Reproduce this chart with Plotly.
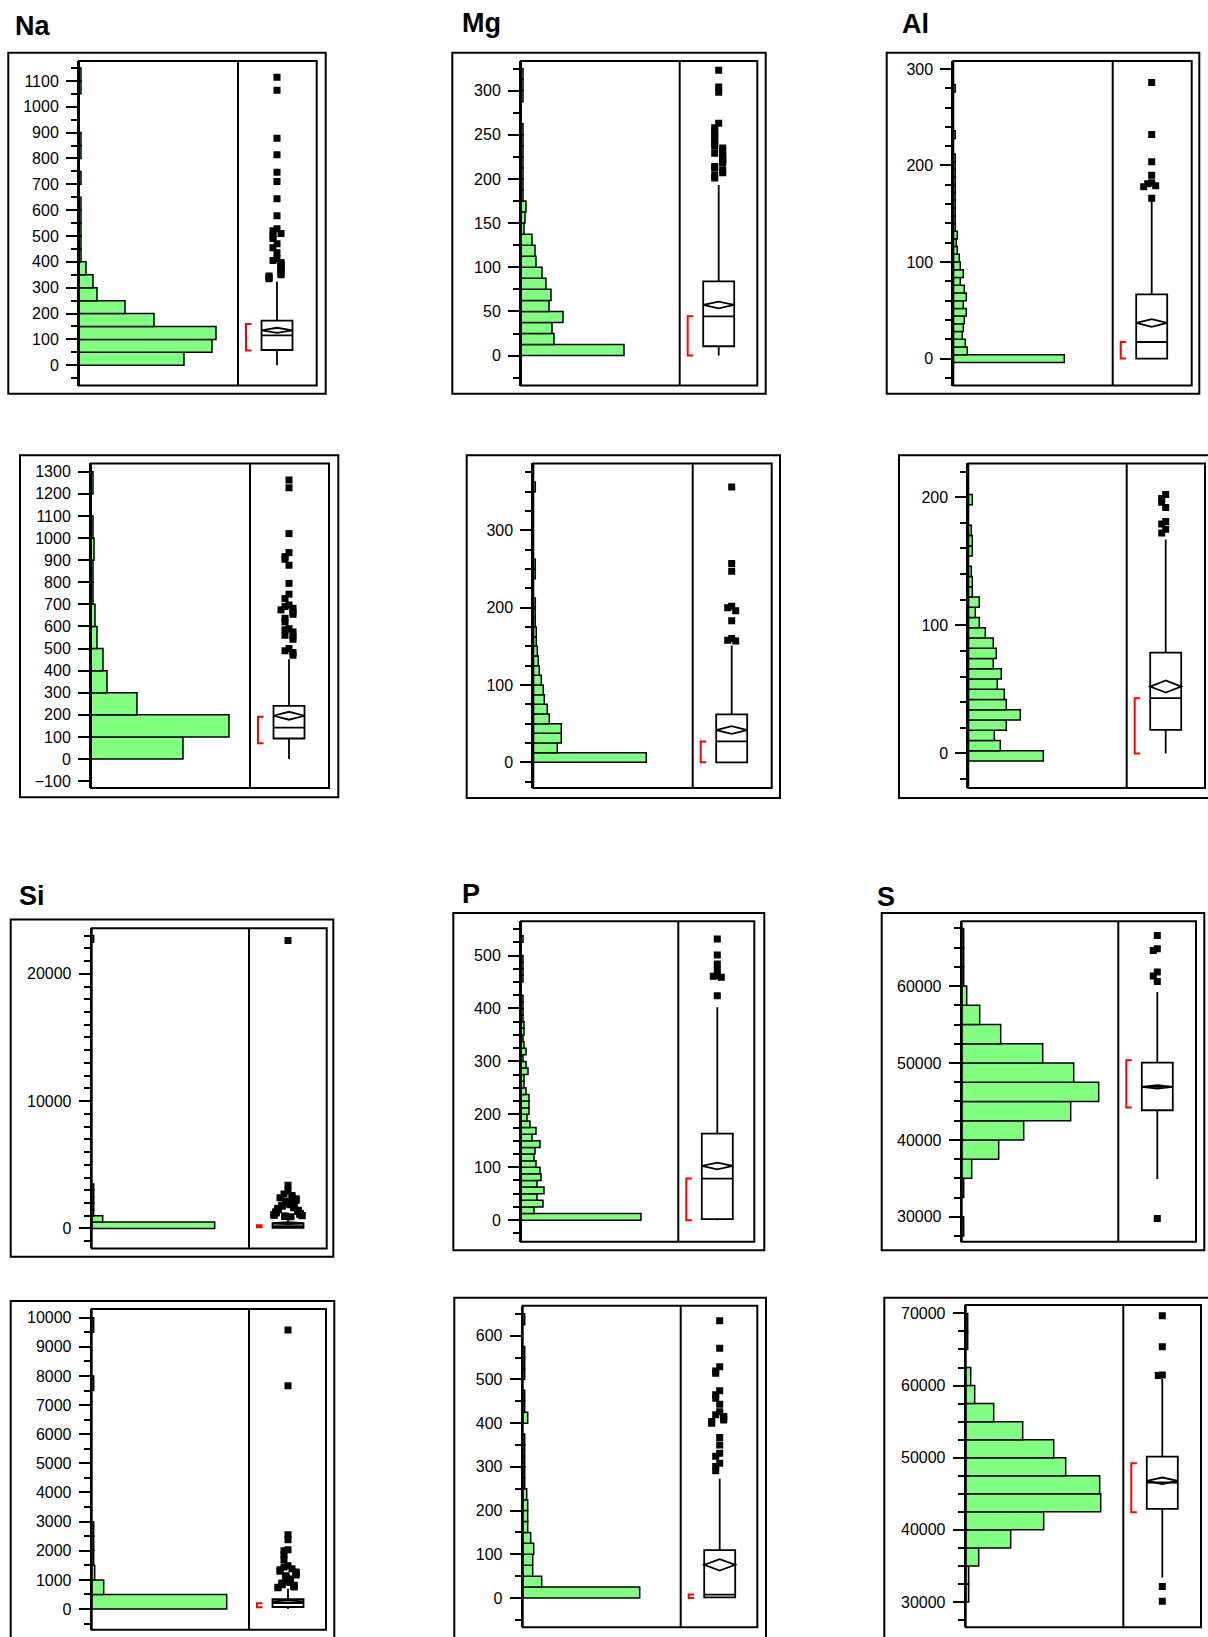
import plotly.graph_objects as go

W, H = 1208, 1637

# ------------------------------------------------------------------
# Values
# bins: (lower edge of first bin, bin width); counts per bin
# box: lower whisker, Q1, median, Q3, upper whisker
# mean: mean value, half-height of the mean diamond
# short: shortest half (red bracket)
# out: outlying points
# ------------------------------------------------------------------
elements = ["Na", "Mg", "Al", "Si", "P", "S"]

na1_bins = (0, 50)
na1_counts = [105, 133, 137, 75, 46, 18, 14, 7, 2, 2, 2, 2, 2, 0, 2, 0, 2, 2, 0, 0, 0, 2, 2]
na1_box = [0, 59, 116, 173, 324]
na1_mean = [135, 10]
na1_short = [57, 160]
na1_out = [1114, 1064, 878, 814, 747, 711, 644, 578, 528, 520, 510, 500, 490, 470,
           455, 435, 412, 405, 398, 392, 385, 378, 370, 362, 356, 350, 345, 340, 335]

mg1_bins = (0, 12.5)
mg1_counts = [103, 33, 31, 42, 28, 30, 25, 21, 15, 14, 11, 3, 4, 5,
              2, 2, 2, 2, 2, 2, 2, 0, 0, 2, 2, 2]
mg1_box = [0, 10.6, 44.5, 84, 193]
mg1_mean = [57.3, 3.8]
mg1_short = [0, 44.5]
mg1_out = [323, 304, 298, 263, 258, 254, 250, 248, 244, 240, 237, 235, 232, 229,
           227, 225, 222, 220, 218, 214, 212, 210, 207, 204, 201]

al1_bins = (-4, 8)
al1_counts = [111, 14, 12, 9, 10, 11, 13, 10, 13, 11, 7, 10, 7, 6, 4, 3, 4,
              2, 2, 2, 2, 2, 2, 2, 2, 2, 2, 0, 0, 2, 0, 0, 0, 0, 0, 2]
al1_box = [0, 0, 17.2, 66.6, 164.5]
al1_mean = [36.9, 4]
al1_short = [0, 17.2]
al1_out = [286, 232, 204, 190, 182, 181, 179, 178, 166]

na2_bins = (0, 100)
na2_counts = [92, 138, 46, 16, 12, 6, 4, 2, 2, 3, 2, 0, 2]
na2_box = [0, 93, 142, 241, 452]
na2_mean = [196, 18]
na2_short = [72, 191]
na2_out = [1262, 1228, 1020, 934, 916, 904, 877, 795, 746, 726, 697, 690, 682, 675,
           665, 655, 637, 621, 590, 585, 575, 560, 557, 542, 500, 490, 482, 470]

mg2_bins = (0, 12.5)
mg2_counts = [113, 24, 28, 28, 16, 14, 11, 10, 8, 6, 5, 4, 3, 3, 2, 2, 2, 0, 0, 2, 2,
              0, 0, 0, 0, 0, 0, 0, 2]
mg2_box = [0, 0, 27, 62, 151]
mg2_mean = [41.8, 5]
mg2_short = [0, 27]
mg2_out = [356, 257, 247, 202, 200, 196, 183, 160, 158, 157]

al2_bins = (-6, 8)
al2_counts = [75, 32, 26, 38, 52, 38, 36, 29, 33, 25, 28, 25, 17, 11, 7, 11, 4, 4, 3,
              0, 4, 4, 3, 0, 0, 4]
al2_box = [0, 18.4, 43.1, 78.7, 167]
al2_mean = [52.2, 4.7]
al2_short = [0, 43]
al2_out = [202, 199, 196, 192, 181, 179, 175, 172]

si1_bins = (0, 500)
si1_counts = [123, 11, 2, 2, 2, 2, 2] + [0] * 38 + [2]
si1_box = [0, 50, 190, 390, 900]
si1_mean = [420, 80]
si1_short = [100, 260]
si1_out = [22614, 3399, 2954, 2700, 2600, 2500, 2420, 2340, 2270, 2200, 2140, 2080,
           2020, 1970, 1920, 1870, 1820, 1780, 1740, 1700, 1660, 1620, 1580, 1545,
           1510, 1475, 1440, 1405, 1370, 1340, 1310, 1280, 1250, 1220, 1190, 1165,
           1140, 1115, 1090, 1065, 1040, 1020, 1000, 980, 960, 940, 920]

p1_bins = (0, 12.5)
p1_counts = [120, 13, 22, 16, 23, 16, 20, 19, 15, 13, 14, 19, 11, 15, 9, 6, 8, 8, 8,
             5, 3, 3, 7, 5, 2, 5, 3, 2, 3, 3, 2, 2, 2, 2, 0, 0, 2, 2, 2, 2, 0, 0, 2]
p1_box = [0, 2, 78.6, 163.5, 402.5]
p1_mean = [102.5, 6.3]
p1_short = [0, 78.6]
p1_out = [531, 501, 484, 472, 462, 461, 459, 424]

s1_bins = (27500, 2500)
s1_counts = [2, 0, 2, 10, 37, 62, 109, 137, 112, 81, 39, 18, 5, 2, 2, 2]
s1_box = [34900, 43853, 46883, 50043, 59221]
s1_mean = [46900, 220]
s1_short = [44199, 50346]
s1_out = [66580, 64848, 64632, 61818, 61300, 60606, 29784]

si2_bins = (0, 500)
si2_counts = [135, 12, 3, 2, 2, 2, 0, 0, 0, 0, 0, 0, 0, 0, 0, 2, 0, 0, 0, 2]
si2_box = [0, 69, 206, 343, 700]
si2_mean = [263, 40]
si2_short = [60, 200]
si2_out = [9577, 7669, 2549, 2377, 2035, 2000, 1863, 1692, 1486, 1440, 1380, 1349,
           1300, 1270, 1240, 1200, 1170, 1140, 1110, 1086, 1060, 1030, 1006, 980, 960,
           935, 914, 890, 870, 850, 834, 815, 800, 780, 760, 745, 730]

p2_bins = (0, 25)
p2_counts = [117, 19, 10, 10, 11, 8, 5, 5, 5, 4, 2, 2, 2, 2, 2, 0, 5, 2, 2, 0, 2, 2,
             2, 0, 0, 2]
p2_box = [0, 1.5, 7.6, 109.6, 272.6]
p2_mean = [76, 13]
p2_short = [0, 8]
p2_out = [634, 571, 529, 519, 514, 474, 465, 457, 443, 426, 419, 415, 411, 407, 404,
          400, 367, 350, 331, 324, 308, 301, 291]

s2_bins = (30000, 2500)
s2_counts = [3, 3, 13, 45, 78, 135, 134, 100, 88, 57, 28, 9, 5, 0, 2, 2]
s2_box = [33414, 42918, 46563, 50161, 60911]
s2_mean = [46794, 460]
s2_short = [42457, 49239]
s2_out = [69677, 65386, 61465, 61400, 32168, 30092]

panels = [
    (na1_bins, na1_counts, na1_box, na1_mean, na1_short, na1_out),
    (mg1_bins, mg1_counts, mg1_box, mg1_mean, mg1_short, mg1_out),
    (al1_bins, al1_counts, al1_box, al1_mean, al1_short, al1_out),
    (na2_bins, na2_counts, na2_box, na2_mean, na2_short, na2_out),
    (mg2_bins, mg2_counts, mg2_box, mg2_mean, mg2_short, mg2_out),
    (al2_bins, al2_counts, al2_box, al2_mean, al2_short, al2_out),
    (si1_bins, si1_counts, si1_box, si1_mean, si1_short, si1_out),
    (p1_bins, p1_counts, p1_box, p1_mean, p1_short, p1_out),
    (s1_bins, s1_counts, s1_box, s1_mean, s1_short, s1_out),
    (si2_bins, si2_counts, si2_box, si2_mean, si2_short, si2_out),
    (p2_bins, p2_counts, p2_box, p2_mean, p2_short, p2_out),
    (s2_bins, s2_counts, s2_box, s2_mean, s2_short, s2_out),
]

# ------------------------------------------------------------------
# Page layout (pixels)
# outer frame (x0, y0, x1, y1); plot frame (left, divider, right, top, bottom)
# ------------------------------------------------------------------
frames = [
    ((8.3, 52.7, 325.7, 394.3), (79, 238, 316.7, 61, 386)),
    ((452.3, 52.7, 765.7, 394.3), (521, 679.7, 757.3, 61, 386)),
    ((886.7, 52.7, 1199.3, 394.3), (953.3, 1112.7, 1191.7, 61, 386)),
    ((20, 455.7, 338.3, 798.3), (91, 250, 329, 464, 789)),
    ((466.7, 455.7, 780, 799), (533.3, 692.7, 771.7, 464, 789)),
    ((899, 455.7, 1212, 799), (968.3, 1126.7, 1205, 464, 789)),
    ((10.7, 920.7, 333.3, 1258.3), (91.7, 249, 326.7, 929.3, 1250)),
    ((453.3, 914, 764.3, 1251.7), (521, 678.3, 754.3, 922.3, 1243.3)),
    ((881.7, 914, 1204.3, 1251.7), (961.7, 1118.3, 1196, 922.3, 1243.3)),
    ((10.7, 1302.7, 334.3, 1645), (91.7, 249, 326, 1310.7, 1631.7)),
    ((454.3, 1299.3, 766, 1645), (522.7, 680.7, 757.3, 1307.3, 1629.3)),
    ((884.3, 1299.3, 1212, 1645), (965.7, 1123.3, 1201, 1306.7, 1629.3)),
]

# value axis: range, major tick step, minor tick step
value_axes = [
    ((-78.4, 1177.3), 100, 50),
    ((-33.9, 333.6), 50, 25),
    ((-27.9, 308.3), 100, 20),
    ((-131, 1337.5), 100, None),
    ((-33.2, 386.5), 100, 25),
    ((-27, 226.3), 100, 20),
    ((-1569, 23584), 10000, 1000),
    ((-40.8, 564.9), 100, 25),
    ((26753, 68442), 10000, 2500),
    ((-710, 10296), 1000, 500),
    ((-67, 668.6), 100, 50),
    ((26498, 71149), 10000, 2500),
]

# element headings: (left x, vertical centre) in pixels
heading_pos = [(13, 26), (460, 23), (900, 24), (17, 897), (460, 895), (875, 898)]

FONT = "Liberation Sans"
GREEN = "#80FF80"
BOX_C, BOX_HALF = 39, 15.5          # box centre / half width, px from divider
BRACKET_X0, BRACKET_X1 = 8, 13.5    # red bracket, px from divider
JITTER = [0, -4, 4, -8, 8, -2, 2, -6, 6, -10, 10, -12, 12, -14, 14, -3, 3, -7, 7,
          -11, 11, -13, 13, -5, 5, -9, 9]


def px(x):
    return x / W


def py(y):
    return 1 - y / H


def ax_name(n, letter):
    return letter if n == 1 else f"{letter}{n}"


def ax_key(n, letter):
    return f"{letter}axis" if n == 1 else f"{letter}axis{n}"


def spread(values, px_per_unit, gap=5):
    """Horizontal offsets so that overlapping points sit side by side."""
    offs = []
    for i, v in enumerate(values):
        k = sum(1 for u in values[:i] if abs(u - v) * px_per_unit < gap)
        offs.append(JITTER[k % len(JITTER)])
    return offs


fig = go.Figure()
layout = {}
shapes = []
annotations = []

for i, (pan, fr, va) in enumerate(zip(panels, frames, value_axes)):
    bins, counts, box, mean, short, out = pan
    (ox0, oy0, ox1, oy1), (L, D, R, T, B) = fr
    rng, major, minor = va
    nh, nb, ny = 2 * i + 1, 2 * i + 2, i + 1
    xh, xb, yy = ax_name(nh, "x"), ax_name(nb, "x"), ax_name(ny, "y")

    # histogram, drawn horizontally against the value axis
    start, width = bins
    ys = [start + width * (k + 0.5) for k, c in enumerate(counts) if c > 0]
    xs = [c for c in counts if c > 0]
    fig.add_trace(go.Bar(
        x=xs, y=ys, width=width, orientation="h",
        marker=dict(color=GREEN, line=dict(color="black", width=1.5)),
        xaxis=xh, yaxis=yy, hoverinfo="skip"))

    # box plot
    lo, q1, med, q3, hi = box
    fig.add_trace(go.Box(
        x=[BOX_C], q1=[q1], median=[med], q3=[q3], lowerfence=[lo], upperfence=[hi],
        width=2 * BOX_HALF, whiskerwidth=0, orientation="v", boxpoints=False,
        fillcolor="white", line=dict(color="black", width=1.8),
        xaxis=xb, yaxis=yy, hoverinfo="skip"))

    # outlying points
    ppu = (B - T) / (rng[1] - rng[0])
    offs = spread(out, ppu)
    fig.add_trace(go.Scatter(
        x=[BOX_C + o for o in offs], y=out, mode="markers",
        marker=dict(symbol="square", size=7, color="black", line=dict(width=0)),
        xaxis=xb, yaxis=yy, hoverinfo="skip"))

    # axes
    yax = dict(
        domain=[py(B), py(T)], anchor=xh, range=list(rng), autorange=False,
        tick0=0, dtick=major, ticks="outside", ticklen=11, tickwidth=2,
        tickcolor="black", showline=True, linewidth=2, linecolor="black",
        showgrid=False, zeroline=False, tickformat="d", ticklabelstandoff=4,
        tickfont=dict(family=FONT, size=16, color="black"), fixedrange=True)
    if minor:
        yax["minor"] = dict(ticks="outside", ticklen=6, tickwidth=2,
                            tickcolor="black", tick0=0, dtick=minor, showgrid=False)
    layout[ax_key(ny, "y")] = yax
    layout[ax_key(nh, "x")] = dict(domain=[px(L), px(D)], anchor=yy,
                                   range=[0, D - L], visible=False, fixedrange=True)
    layout[ax_key(nb, "x")] = dict(domain=[px(D), px(R)], anchor=yy,
                                   range=[0, R - D], visible=False, fixedrange=True)

    # frames
    shapes.append(dict(type="rect", xref="paper", yref="paper",
                       x0=px(ox0), x1=px(ox1), y0=py(oy1), y1=py(oy0),
                       line=dict(color="black", width=2)))
    shapes.append(dict(type="rect", xref="paper", yref="paper",
                       x0=px(L), x1=px(R), y0=py(B), y1=py(T),
                       line=dict(color="black", width=2)))
    shapes.append(dict(type="line", xref="paper", yref="paper",
                       x0=px(D), x1=px(D), y0=py(B), y1=py(T),
                       line=dict(color="black", width=2)))

    # mean diamond
    m, h = mean
    shapes.append(dict(
        type="path", xref=xb, yref=yy,
        path=(f"M {BOX_C - BOX_HALF},{m} L {BOX_C},{m + h} "
              f"L {BOX_C + BOX_HALF},{m} L {BOX_C},{m - h} Z"),
        line=dict(color="black", width=1.8)))

    # shortest-half bracket
    s0, s1 = short
    shapes.append(dict(
        type="path", xref=xb, yref=yy,
        path=(f"M {BRACKET_X1},{s1} L {BRACKET_X0},{s1} "
              f"L {BRACKET_X0},{s0} L {BRACKET_X1},{s0}"),
        line=dict(color="red", width=2)))

for name, (hx, hy) in zip(elements, heading_pos):
    annotations.append(dict(
        text=name, xref="paper", yref="paper", x=px(hx), y=py(hy),
        xanchor="left", yanchor="middle", showarrow=False,
        font=dict(family=FONT, size=27, color="black", weight="bold")))

fig.update_layout(
    width=W, height=H, margin=dict(l=0, r=0, t=0, b=0, pad=0),
    paper_bgcolor="white", plot_bgcolor="white", showlegend=False,
    shapes=shapes, annotations=annotations, **layout)

fig.write_html("out.html", config={"displayModeBar": False})
